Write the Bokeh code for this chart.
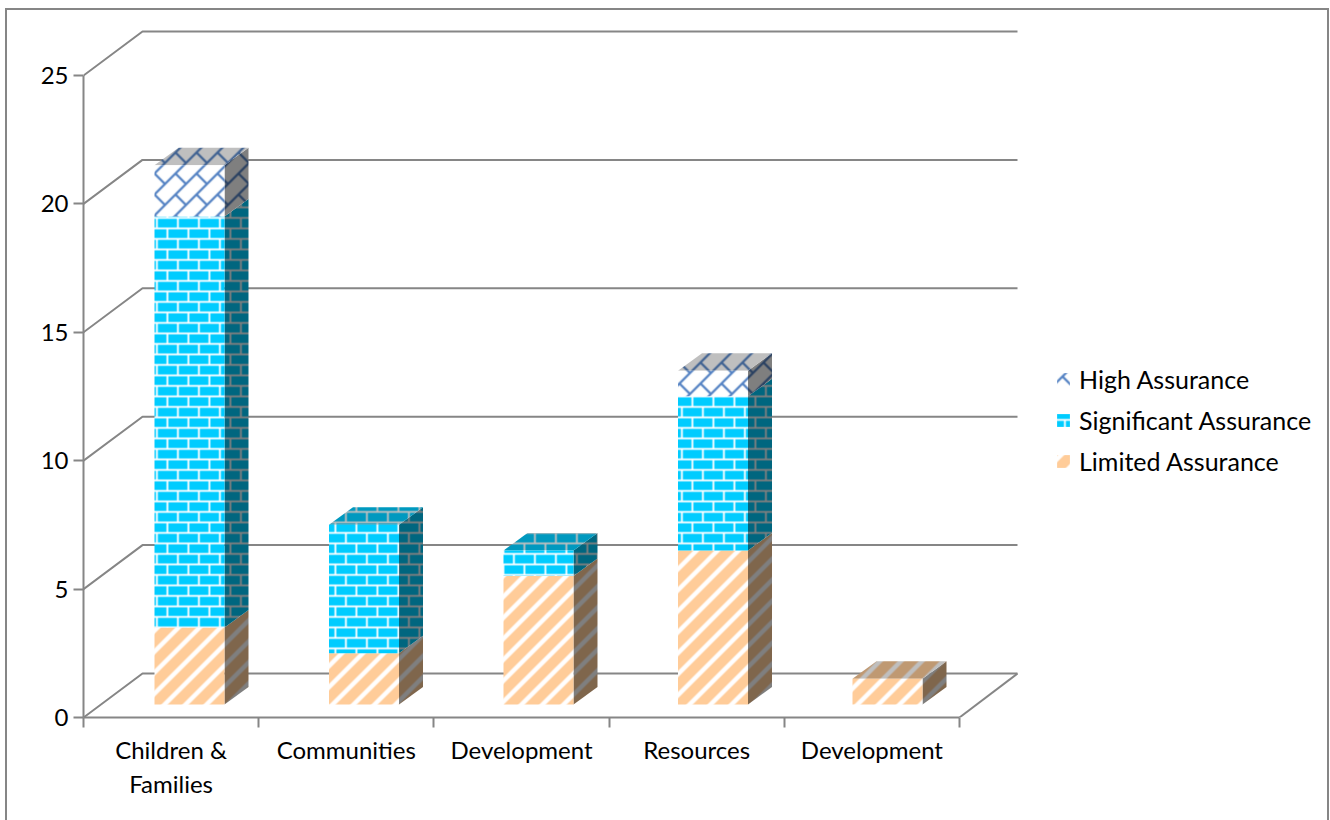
import base64
import struct
import zlib

import numpy as np
from bokeh.core.properties import value
from bokeh.embed import file_html
from bokeh.models import (ColumnDataSource, FixedTicker, ImageURLTexture,
                          Legend, LegendItem, LinearAxis, Range1d)
from bokeh.plotting import figure
from bokeh.resources import INLINE

# Audit opinions per directorate
categories_line1 = ["Children &", "Communities", "Development", "Resources", "Development"]
categories_line2 = ["Families", "", "", "", ""]
limited_assurance = [3, 2, 5, 6, 1]
significant_assurance = [16, 5, 1, 6, 0]
high_assurance = [2, 0, 0, 1, 0]
value_ticks = [0, 5, 10, 15, 20, 25]

FONT = "Lato"
GREY = "#868686"
LABEL_PX = "24px"
LEGEND_PX = "25px"

# Scale of the front plane in pixels per data unit, used to express 3D offsets in data units
PX_X = 175.2
PX_Y = 25.68
WALL_DX, WALL_DY = 59 / PX_X, 44 / PX_Y
WALL_RIGHT = (1017 - 83) / PX_X
BAR_GAP, BAR_W, BAR_PITCH = 71 / PX_X, 70 / PX_X, 174.5 / PX_X
BAR_DX, BAR_DY = 24 / PX_X, 17.5 / PX_Y
FLOOR = 13 / PX_Y


def png_uri(rgb):
    h, w, _ = rgb.shape
    raw = b"".join(b"\x00" + rgb[y].tobytes() for y in range(h))

    def chunk(tag, data):
        return struct.pack(">I", len(data)) + tag + data + struct.pack(">I", zlib.crc32(tag + data))

    png = (b"\x89PNG\r\n\x1a\n" + chunk(b"IHDR", struct.pack(">IIBBBBB", w, h, 8, 2, 0, 0, 0))
           + chunk(b"IDAT", zlib.compress(raw)) + chunk(b"IEND", b""))
    return "data:image/png;base64," + base64.b64encode(png).decode()


def pattern_grid(size=21, oversample=6):
    n = size * oversample
    c = (np.arange(n) + 0.5) / n * 8
    return np.meshgrid(c, c)


def brick_mask():
    u, v = pattern_grid()
    row = (v % 4) < 0.7
    upper = (v % 8) < 4
    joint = np.where(upper, (u % 8) < 0.7, ((u + 4) % 8) < 0.7)
    return row | joint


def diagonal_brick_mask():
    u, v = pattern_grid()
    long_edge = np.abs(((u + v + 4) % 8) - 4) < 0.6
    short_edge = (np.abs(((u - v + 4) % 8) - 4) < 0.6) & (v >= 4)
    return long_edge | short_edge


def wide_stripe_mask():
    u, v = pattern_grid()
    return ((u + v) % 8) < 2.4


def make_tile(mask, ink, paper, shade, shift=(0, 0), oversample=6):
    m = mask.astype(float)
    # soften the edges a little, wrapping round the tile
    for axis in (0, 1):
        m = sum(np.roll(m, s, axis=axis) for s in range(-5, 6)) / 11
    m = m.reshape(21, oversample, 21, oversample).mean(axis=(1, 3))
    m = np.roll(m, shift, axis=(0, 1))[..., None]
    rgb = (np.array(ink) * m + np.array(paper) * (1 - m)) * shade
    return png_uri(np.clip(rgb, 0, 255).astype(np.uint8))


WHITE = (255, 255, 255)
SERIES = [
    ("Limited Assurance", limited_assurance, wide_stripe_mask(), WHITE, (255, 204, 153), (0, 5)),
    ("Significant Assurance", significant_assurance, brick_mask(), WHITE, (0, 204, 255), (7, 9)),
    ("High Assurance", high_assurance, diagonal_brick_mask(), (84, 130, 195), WHITE, (16, 18)),
]
FRONT, TOP, SIDE = 1.0, 0.75, 0.5

p = figure(width=1330, height=820, output_backend="svg", toolbar_location=None,
           x_range=Range1d(0, (1330 - 83) / PX_X), y_range=Range1d(0, (717 - 8) / PX_Y),
           min_border_left=83, min_border_right=0, min_border_top=8, min_border_bottom=103,
           x_axis_type=None, y_axis_type=None, outline_line_color=None,
           background_fill_color="white", border_fill_color="white")
p.grid.visible = False

# Chart area border, open at the foot of the page
p.stylesheets = [":host::after { content: ''; position: absolute; left: 5px; top: 8px; width: 1324px;"
                 " height: 812px; box-sizing: border-box; border: 2px solid " + GREY + ";"
                 " border-bottom: none; pointer-events: none; }"]

# Back wall, side wall and floor
wall_xs = [[0, WALL_DX, WALL_RIGHT] for _ in value_ticks]
wall_ys = [[v, v + WALL_DY, v + WALL_DY] for v in value_ticks]
p.multi_line(wall_xs, wall_ys, line_color=GREY, line_width=2)
p.line([len(categories_line1), WALL_RIGHT], [0, WALL_DY], line_color=GREY, line_width=2)

# Stacked bars: each segment has a front face, a side face and, on the stack's top, a top face
legend_renderers = {}
stack_base = np.zeros(len(categories_line1))
totals = np.array(limited_assurance) + np.array(significant_assurance) + np.array(high_assurance)
for name, values, mask, ink, paper, shift in SERIES:
    vals = np.array(values, dtype=float)
    idx = np.nonzero(vals)[0]
    left = idx * BAR_PITCH + BAR_GAP
    right = left + BAR_W
    bottom = stack_base[idx] + FLOOR
    top = bottom + vals[idx]

    side_xs = [[r, r + BAR_DX, r + BAR_DX, r] for r in right]
    side_ys = [[b, b + BAR_DY, t + BAR_DY, t] for b, t in zip(bottom, top)]
    side_tile = ImageURLTexture(url=make_tile(mask, ink, paper, SIDE, shift))
    p.patches(side_xs, side_ys, line_color=None, fill_color=None,
              hatch_pattern=value("tile"), hatch_extra={"tile": side_tile})

    is_top = stack_base[idx] + vals[idx] == totals[idx]
    top_xs = [[l, r, r + BAR_DX, l + BAR_DX] for l, r in zip(left[is_top], right[is_top])]
    top_ys = [[t, t, t + BAR_DY, t + BAR_DY] for t in top[is_top]]
    if top_xs:
        top_tile = ImageURLTexture(url=make_tile(mask, ink, paper, TOP, shift))
        p.patches(top_xs, top_ys, line_color=None, fill_color=None,
                  hatch_pattern=value("tile"), hatch_extra={"tile": top_tile})

    front_tile = ImageURLTexture(url=make_tile(mask, ink, paper, FRONT, shift))
    source = ColumnDataSource(dict(left=left, right=right, bottom=bottom, top=top))
    legend_renderers[name] = p.quad(left="left", right="right", bottom="bottom", top="top",
                                    source=source, line_color=None, fill_color=None,
                                    hatch_pattern=value("tile"), hatch_extra={"tile": front_tile})
    stack_base = stack_base + vals

# Value axis
y_axis = LinearAxis(ticker=FixedTicker(ticks=value_ticks), bounds=(0, 25),
                    axis_line_color=GREY, axis_line_width=2,
                    major_tick_line_color=GREY, major_tick_line_width=2,
                    major_tick_in=0, major_tick_out=10, minor_tick_line_color=None,
                    major_label_standoff=5, major_label_text_font=FONT,
                    major_label_text_font_size=LABEL_PX, major_label_text_color="#000000")
p.add_layout(y_axis, "left")

# Category axis: ticks sit on the category boundaries, labels on the centres
centres = [i + 0.5 for i in range(len(categories_line1))]
x_axis = LinearAxis(ticker=FixedTicker(ticks=centres, minor_ticks=list(range(len(categories_line1) + 1))),
                    major_label_overrides=dict(zip(centres, categories_line1)),
                    bounds=(0, len(categories_line1)),
                    axis_line_color=GREY, axis_line_width=2,
                    major_tick_line_color=None, minor_tick_line_color=GREY, minor_tick_line_width=2,
                    minor_tick_in=0, minor_tick_out=10, major_tick_in=0, major_tick_out=0,
                    major_label_standoff=7, major_label_text_font=FONT,
                    major_label_text_font_size=LABEL_PX, major_label_text_color="#000000")
p.add_layout(x_axis, "below")
second_centres = [c for c, t in zip(centres, categories_line2) if t]
x_axis_second = LinearAxis(ticker=FixedTicker(ticks=second_centres),
                           major_label_overrides={c: t for c, t in zip(centres, categories_line2) if t},
                           axis_line_color=None, major_tick_line_color=None, minor_tick_line_color=None,
                           major_tick_in=0, major_tick_out=0, major_label_standoff=2,
                           major_label_text_font=FONT, major_label_text_font_size=LABEL_PX,
                           major_label_text_color="#000000")
p.add_layout(x_axis_second, "below")

legend = Legend(items=[LegendItem(label=n, renderers=[legend_renderers[n]])
                       for n in ["High Assurance", "Significant Assurance", "Limited Assurance"]],
                location=(972, 241), orientation="vertical", background_fill_alpha=0,
                border_line_color=None, padding=0, margin=0, spacing=11,
                glyph_width=16, glyph_height=16, label_standoff=8,
                label_text_font=FONT, label_text_font_size=LEGEND_PX, label_text_color="#000000")
p.add_layout(legend, "center")

open("out.html", "w").write(file_html(p, INLINE))
